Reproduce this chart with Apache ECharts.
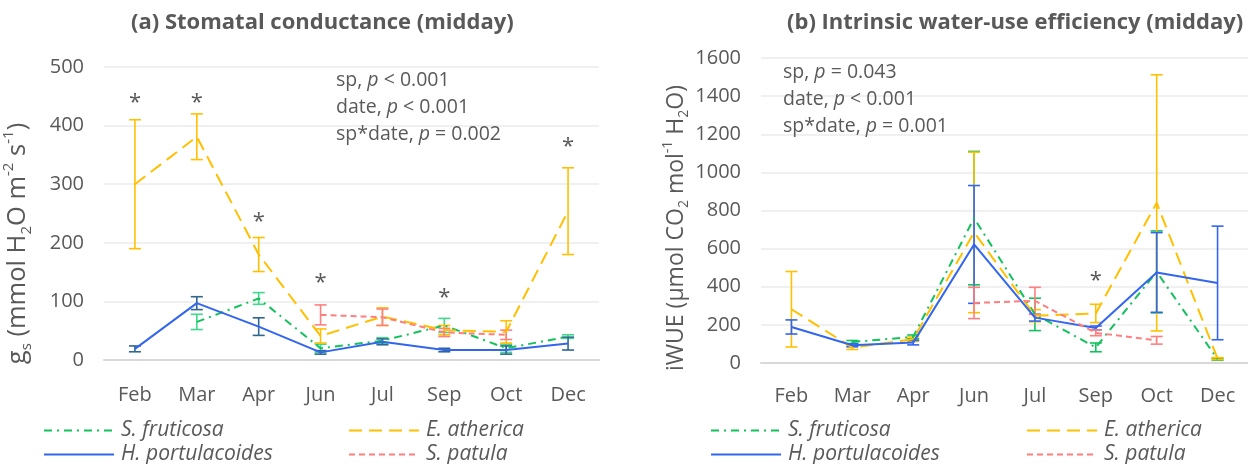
<!DOCTYPE html>
<html>
<head>
<meta charset="utf-8">
<script src="https://cdn.jsdelivr.net/npm/echarts@6/dist/echarts.min.js"></script>
<style>
html,body{margin:0;padding:0;background:#fff;}
#c{width:1248px;height:464px;}
</style>
</head>
<body>
<div id="c"></div>
<script>
// ---------- data ----------
const months = ['Feb', 'Mar', 'Apr', 'Jun', 'Jul', 'Sep', 'Oct', 'Dec'];
const speciesNames = ['S. fruticosa', 'E. atherica', 'H. portulacoides', 'S. patula'];

// (a) stomatal conductance, mean and error
const gsFruticosa = [null, 65, 105, 20, 33, 59, 20, 40];
const gsFruticosaErr = [null, 13, 10, 7, 5, 12, 7, 3];
const gsAtherica = [300, 381, 180, 41, 74, 51, 48, 254];
const gsAthericaErr = [110, 39, 29, 12, 15, 8, 19, 74];
const gsPortulacoides = [19, 97, 57, 13, 31, 17, 17, 28];
const gsPortulacoidesErr = [5, 11, 15, 3, 5, 3, 7, 11];
const gsPatula = [null, null, null, 77, 73, 47, 43, null];
const gsPatulaErr = [null, null, null, 17, 14, 7, 8, null];

// (b) intrinsic water-use efficiency, mean and error
const wueFruticosa = [null, 110, 137, 760, 255, 82, 478, 20];
const wueFruticosaErr = [null, 8, 10, 350, 85, 23, 215, 5];
const wueAtherica = [282, 81, 125, 685, 248, 260, 840, 23];
const wueAthericaErr = [198, 10, 12, 421, 32, 48, 672, 5];
const wuePortulacoides = [189, 93, 107, 622, 238, 184, 475, 420];
const wuePortulacoidesErr = [37, 8, 12, 309, 18, 10, 209, 298];
const wuePatula = [null, null, null, 315, 326, 158, 119, null];
const wuePatulaErr = [null, null, null, 82, 71, 15, 20, null];

// significance stars: category index and height
const gsStarCats = [0, 1, 2, 3, 5, 7];
const gsStarVals = [447, 447, 244, 141, 114, 372];
const wueStarCats = [5];
const wueStarVals = [456];

const yTicksA = {min: 0, max: 500, interval: 100};
const yTicksB = {min: 0, max: 1600, interval: 200};

// ---------- styles ----------
const FONT = '"Open Sans"';
const TXT = '#595959';
const colors = ['#12C25C', '#FFC000', '#3366EE', '#FF7F7F'];
const dashes = [[8, 5, 2, 5], [13, 7], 'solid', [6, 4]];
const errColorsA = ['#3ED98C', '#FFC000', '#2F6790', '#FF7F7F'];
const errColorsB = ['#12C25C', '#FFC000', '#3366EE', '#FF7F7F'];

const chart = echarts.init(document.getElementById('c'), null, {renderer: 'canvas'});

function errSeries(name, grid, means, errs, color) {
  const data = [];
  means.forEach((m, i) => {
    if (m != null && errs[i] != null) data.push([i, m - errs[i], m + errs[i]]);
  });
  return {
    type: 'custom', name: name, xAxisIndex: grid, yAxisIndex: grid, z: 3,
    silent: true,
    renderItem: function (params, api) {
      const top = api.coord([api.value(0), api.value(2)]);
      const bot = api.coord([api.value(0), api.value(1)]);
      const w = 6;
      const st = {stroke: color, lineWidth: 1.6};
      return {
        type: 'group', children: [
          {type: 'line', shape: {x1: top[0], y1: top[1], x2: bot[0], y2: bot[1]}, style: st},
          {type: 'line', shape: {x1: top[0] - w, y1: top[1], x2: top[0] + w, y2: top[1]}, style: st},
          {type: 'line', shape: {x1: bot[0] - w, y1: bot[1], x2: bot[0] + w, y2: bot[1]}, style: st}
        ]
      };
    },
    data: data
  };
}

function lineSeries(name, grid, means, idx) {
  return {
    type: 'line', name: name, xAxisIndex: grid, yAxisIndex: grid, z: 4,
    symbol: 'none', connectNulls: false, silent: true,
    lineStyle: {color: colors[idx], width: 2, type: dashes[idx]},
    itemStyle: {color: colors[idx]},
    data: means
  };
}

function starSeries(grid, cats, vals) {
  return {
    type: 'custom', xAxisIndex: grid, yAxisIndex: grid, z: 5, silent: true,
    renderItem: function (params, api) {
      const p = api.coord([api.value(0), api.value(1)]);
      return {type: 'text', x: p[0], y: p[1] + 5,
        style: {text: '*', fontSize: 22, fontFamily: FONT, fill: TXT, align: 'center', verticalAlign: 'middle'}};
    },
    data: cats.map((c, i) => [c, vals[i]])
  };
}

const setsA = [[gsFruticosa, gsFruticosaErr], [gsAtherica, gsAthericaErr], [gsPortulacoides, gsPortulacoidesErr], [gsPatula, gsPatulaErr]];
const setsB = [[wueFruticosa, wueFruticosaErr], [wueAtherica, wueAthericaErr], [wuePortulacoides, wuePortulacoidesErr], [wuePatula, wuePatulaErr]];

const series = [];
setsA.forEach((s, i) => series.push(errSeries('errA' + i, 0, s[0], s[1], errColorsA[i])));
setsB.forEach((s, i) => series.push(errSeries('errB' + i, 1, s[0], s[1], errColorsB[i])));
setsA.forEach((s, i) => series.push(lineSeries(speciesNames[i], 0, s[0], i)));
setsB.forEach((s, i) => series.push(lineSeries(speciesNames[i], 1, s[0], i)));
series.push(starSeries(0, gsStarCats, gsStarVals));
series.push(starSeries(1, wueStarCats, wueStarVals));

function richName(size) {
  const s = Math.round(size * 0.6);
  return {
    n: {fontSize: size, fontFamily: FONT, color: TXT, lineHeight: Math.round(size * 1.3)},
    sub: {fontSize: s, fontFamily: FONT, color: TXT, lineHeight: s + 1, verticalAlign: 'bottom'},
    sup: {fontSize: s, fontFamily: FONT, color: TXT, lineHeight: s + 1, verticalAlign: 'top'}
  };
}
const richAnn = {
  n: {fontSize: 19.5, fontFamily: FONT, color: TXT, lineHeight: 27, fontWeight: 'normal'},
  i: {fontSize: 19.5, fontFamily: FONT, color: TXT, lineHeight: 27, fontWeight: 'normal', fontStyle: 'italic'}
};

function xAx(grid, margin) {
  return {
    type: 'category', gridIndex: grid, data: months, boundaryGap: true,
    axisLine: {show: true, lineStyle: {color: '#D9D9D9', width: 2}},
    axisTick: {show: false},
    axisLabel: {color: TXT, fontSize: 20, fontFamily: FONT, margin: margin},
    splitLine: {show: false}
  };
}
function yAx(grid, t, name, gap, pad, size) {
  return {
    type: 'value', gridIndex: grid, min: t.min, max: t.max, interval: t.interval,
    axisLine: {show: false}, axisTick: {show: false},
    axisLabel: {color: TXT, fontSize: 20, fontFamily: FONT, margin: 20, formatter: v => String(v)},
    splitLine: {show: true, lineStyle: {color: '#EBEBEB', width: 1.5}},
    name: name, nameLocation: 'middle', nameRotate: 90, nameGap: gap,
    nameTextStyle: {rich: richName(size), padding: pad}
  };
}

function legendItem(name, left, top) {
  return {
    data: [name], left: left, top: top, orient: 'horizontal', padding: 0,
    itemWidth: 70, itemHeight: 14, itemGap: 0, selectedMode: false,
    itemStyle: {opacity: 0},
    textStyle: {color: TXT, fontSize: 21, fontFamily: FONT, fontStyle: 'italic', padding: [0, 0, 0, 2]}
  };
}

const option = {
  backgroundColor: '#fff',
  animation: false,
  title: [
    {text: '(a) Stomatal conductance (midday)', left: 131, top: 12, padding: 0,
      textStyle: {color: TXT, fontSize: 22, fontWeight: 'bold', fontFamily: FONT}},
    {text: '(b) Intrinsic water-use efficiency (midday)', left: 787, top: 12, padding: 0,
      textStyle: {color: TXT, fontSize: 22, fontWeight: 'bold', fontFamily: FONT}},
    {text: '{n|sp, }{i|p}{n| < 0.001}\n{n|date, }{i|p}{n| < 0.001}\n{n|sp*date, }{i|p}{n| = 0.002}',
      left: 336, top: 67, padding: 0, textStyle: {rich: richAnn}},
    {text: '{n|sp, }{i|p}{n| = 0.043}\n{n|date, }{i|p}{n| < 0.001}\n{n|sp*date, }{i|p}{n| = 0.001}',
      left: 783, top: 59, padding: 0, textStyle: {rich: richAnn}}
  ],
  grid: [
    {left: 104, top: 67, width: 495, height: 293, containLabel: false},
    {left: 761, top: 58, width: 498, height: 305, containLabel: false}
  ],
  xAxis: [xAx(0, 25), xAx(1, 23)],
  yAxis: [
    yAx(0, yTicksA, '{n|g}{sub|s}{n| (mmol H}{sub|2}{n|O m}{sup|-2}{n| s}{sup|-1}{n|)}', 70, [0, 60, 0, 0], 25.5),
    yAx(1, yTicksB, '{n|iWUE (µmol CO}{sub|2}{n| mol}{sup|-1}{n| H}{sub|2}{n|O)}', 64, [0, 35, 0, 0], 23)
  ],
  legend: [
    legendItem(speciesNames[0], 43, 420),
    legendItem(speciesNames[1], 348, 420),
    legendItem(speciesNames[2], 43, 444),
    legendItem(speciesNames[3], 348, 444),
    legendItem(speciesNames[0], 710, 420),
    legendItem(speciesNames[1], 1026, 420),
    legendItem(speciesNames[2], 710, 444),
    legendItem(speciesNames[3], 1026, 444)
  ],
  series: series
};
chart.setOption(option);
</script>
</body>
</html>
